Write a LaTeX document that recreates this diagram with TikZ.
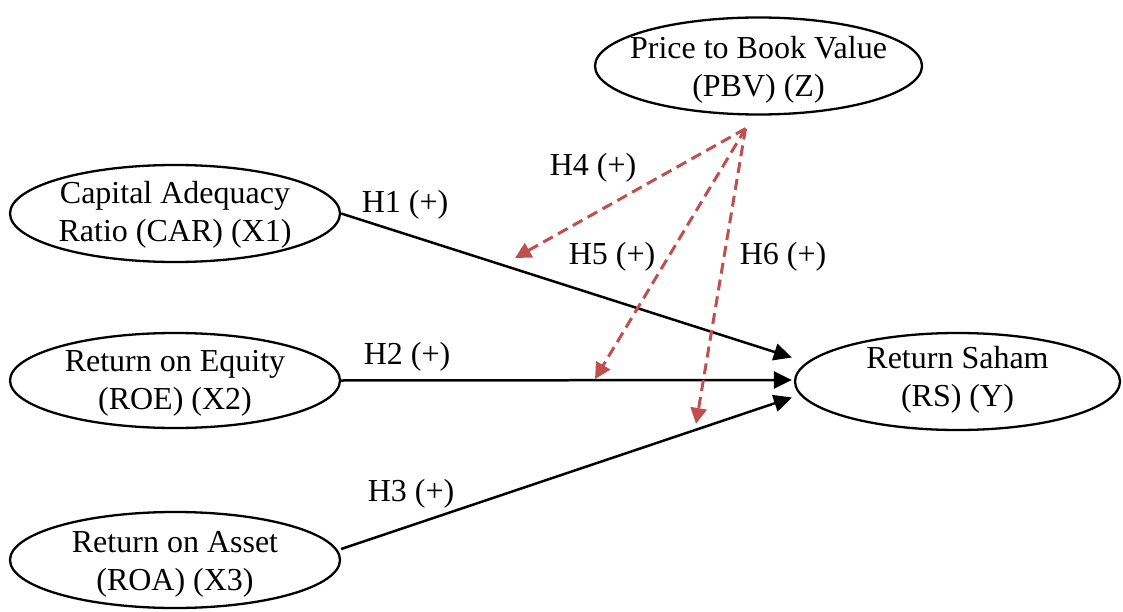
\documentclass[tikz,border=0pt]{standalone}
\usepackage{fontspec}
\setmainfont{Liberation Serif}
\usetikzlibrary{shapes.geometric,arrows.meta,calc}
\definecolor{hred}{RGB}{192,80,77}
\begin{document}
\begin{tikzpicture}[x=1pt,y=-1pt,
  var/.style={draw, line width=2.3pt, ellipse, inner sep=0pt},
  vtext/.style={align=center, inner sep=0pt, font=\fontsize{32}{38}\selectfont},
  lbl/.style={font=\fontsize{32}{38}\selectfont, inner sep=0pt},
  solidarrow/.style={line width=2.5pt, -{Triangle[length=18pt,width=17pt]}},
  dasharrow/.style={hred, line width=3pt, dash pattern=on 11pt off 6pt,
    -{Triangle[length=16pt,width=16pt]}}
]
\useasboundingbox (0,0) rectangle (1123,612);
\node[var, minimum width=330pt, minimum height=97pt] (car) at (175,213.5) {};
\node[var, minimum width=330pt, minimum height=95pt] (roe) at (175,380.5) {};
\node[var, minimum width=330pt, minimum height=96pt] (roa) at (175,560) {};
\node[var, minimum width=327pt, minimum height=97pt] (pbv) at (758.5,66) {};
\node[var, minimum width=325pt, minimum height=97pt] (rs) at (957.5,381.5) {};

\node[vtext] (cart) at ($(car)+(0,1.5)$) {Capital Adequacy\\Ratio (CAR) (X1)};
\node[vtext] (roet) at ($(roe)+(0,3)$) {Return on Equity\\(ROE) (X2)};
\node[vtext] (roat) at ($(roa)+(0,4)$) {Return on Asset\\(ROA) (X3)};
\node[vtext] (pbvt) at ($(pbv)+(0,4)$) {Price to Book Value\\(PBV) (Z)};
\node[vtext] (rst) at ($(rs)+(0,-2)$) {Return Saham\\(RS) (Y)};

\coordinate (t1) at ($(rs.west)+(-2,-24)$);
\coordinate (t2) at ($(rs.west)+(-2,-1.5)$);
\coordinate (t3) at ($(rs.west)+(-2,16)$);
\coordinate (s3) at ($(roa.east)+(0,-11)$);
\coordinate (ps) at ($(pbv.south)+(-13,13)$);
\coordinate (d4) at (515,258);
\coordinate (d5) at (595,379);
\coordinate (d6) at (696,424);

\draw[solidarrow] (car.east) -- (t1);
\draw[solidarrow] (roe.east) -- (t2);
\draw[solidarrow] (s3) -- (t3);
\draw[dasharrow] (ps) -- (d4);
\draw[dasharrow] (ps) -- (d5);
\draw[dasharrow] (ps) -- (d6);

\node[lbl] (h1) at (405,205) {H1 (+)};
\node[lbl] (h2) at (407,357) {H2 (+)};
\node[lbl] (h3) at (411,494) {H3 (+)};
\node[lbl] (h4) at (593,168) {H4 (+)};
\node[lbl] (h5) at (612,257) {H5 (+)};
\node[lbl] (h6) at (783,257) {H6 (+)};
\end{tikzpicture}
\end{document}
